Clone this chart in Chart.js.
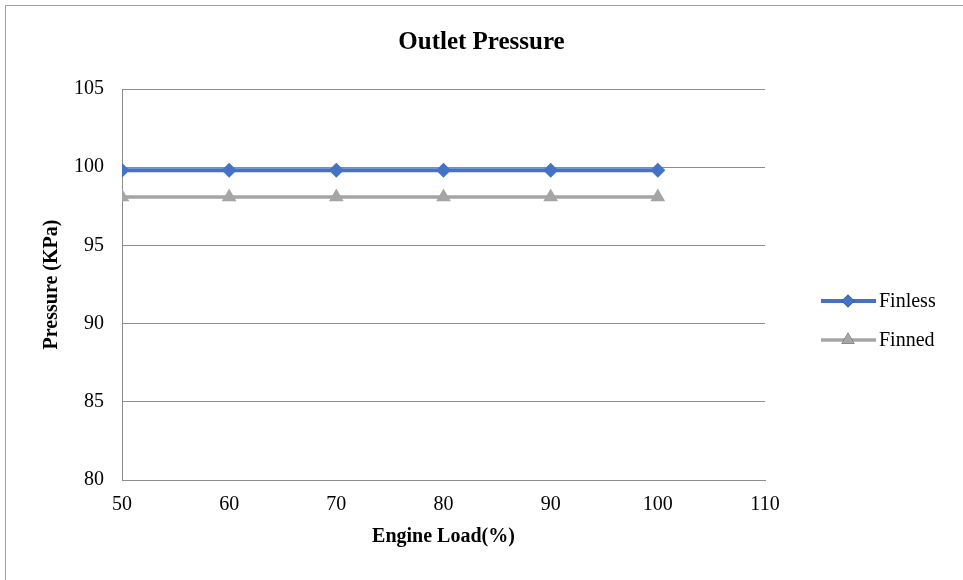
<!DOCTYPE html>
<html>
<head>
<meta charset="utf-8">
<script src="https://cdn.jsdelivr.net/npm/chart.js@4"></script>
<style>
  html, body { margin: 0; padding: 0; background: #fff; }
  #wrap { position: relative; width: 963px; height: 580px; overflow: hidden; }
  #frame { position: absolute; left: 5px; top: 5px; width: 1000px; height: 1000px;
           border-top: 1px solid #a0a0a0; border-left: 1px solid #a0a0a0; }
  canvas { position: absolute; left: 0; top: 0; }
</style>
</head>
<body>
<div id="wrap">
  <div id="frame"></div>
  <canvas id="pressureChart" width="963" height="580"></canvas>
</div>
<script>
// engine load (%) and outlet pressure (KPa)
const engineLoad = [50, 60, 70, 80, 90, 100];
const finless = [99.8, 99.8, 99.8, 99.8, 99.8, 99.8];
const finned = [98.1, 98.1, 98.1, 98.1, 98.1, 98.1];
const seriesNames = ["Finless", "Finned"];

const FONT = "'Liberation Serif', 'Times New Roman', serif";

const toPoints = (vals) => engineLoad.map((x, i) => ({x: x, y: vals[i]}));

// legend drawn at the right like the Excel one: line with marker then the name
const sideLegend = {
    id: "sideLegend",
    afterDraw(chart){
        const ctx = chart.ctx;
        const rows = [301, 340];
        chart.data.datasets.forEach((ds, i) => {
            const y = rows[i];
            ctx.save();
            ctx.strokeStyle = ds.borderColor;
            ctx.lineWidth = ds.borderWidth;
            ctx.beginPath();
            ctx.moveTo(821, y);
            ctx.lineTo(876, y);
            ctx.stroke();
            Chart.helpers.drawPoint(ctx, {
                pointStyle: ds.pointStyle,
                radius: ds.pointRadius - 1,
                borderWidth: 0
            }, 848, y);
            ctx.fillStyle = ds.pointBackgroundColor;
            ctx.fill();
            ctx.fillStyle = "#000";
            ctx.font = "20px " + FONT;
            ctx.textBaseline = "middle";
            ctx.textAlign = "left";
            ctx.fillText(ds.label, 879, y + 1);
            ctx.restore();
        });
    }
};

new Chart("pressureChart", {
    type: "line",
    data: {
        datasets: [{
            label: seriesNames[0],
            data: toPoints(finless),
            borderColor: "#4472C4",
            backgroundColor: "#4472C4",
            pointBackgroundColor: "#4472C4",
            pointBorderWidth: 0,
            borderWidth: 4,
            pointStyle: "rectRot",
            pointRadius: 7.5,
            fill: false
        }, {
            label: seriesNames[1],
            data: toPoints(finned),
            borderColor: "#A5A5A5",
            backgroundColor: "#A5A5A5",
            pointBackgroundColor: "#A5A5A5",
            pointBorderWidth: 0,
            borderWidth: 3.5,
            pointStyle: "triangle",
            pointRadius: 8.5,
            fill: false
        }]
    },
    options: {
        responsive: false,
        animation: false,
        layout: {padding: 0},
        plugins: {
            legend: {display: false},
            tooltip: {enabled: false},
            title: {
                display: true,
                text: "Outlet Pressure",
                color: "#000",
                font: {family: FONT, size: 25, weight: "bold"},
                padding: {top: 28, bottom: 31}
            }
        },
        scales: {
            x: {
                type: "linear",
                min: 50,
                max: 110,
                ticks: {stepSize: 10, color: "#000", font: {family: FONT, size: 20}, padding: 13},
                grid: {display: false, drawTicks: false},
                border: {display: true, color: "#8c8c8c", width: 1},
                title: {
                    display: true,
                    text: "Engine Load(%)",
                    color: "#000",
                    font: {family: FONT, size: 20, weight: "bold"},
                    padding: {top: 4, bottom: 31}
                },
                afterFit: (scale) => { scale.height = 100; }
            },
            y: {
                min: 80,
                max: 105,
                ticks: {stepSize: 5, color: "#000", font: {family: FONT, size: 20}, padding: 18},
                grid: {color: "#8c8c8c", lineWidth: 1, drawTicks: false},
                border: {display: true, color: "#8c8c8c", width: 1},
                title: {
                    display: true,
                    text: "Pressure (KPa)",
                    color: "#000",
                    font: {family: FONT, size: 20, weight: "bold"},
                    padding: {top: 40, bottom: 4}
                },
                afterFit: (scale) => { scale.width = 122; }
            },
            // empty right axis only keeps room for the legend
            yRoom: {
                position: "right",
                min: 80,
                max: 105,
                ticks: {display: false},
                grid: {display: false, drawTicks: false},
                border: {display: false},
                afterFit: (scale) => { scale.width = 198; }
            }
        }
    },
    plugins: [sideLegend]
});
</script>
</body>
</html>
